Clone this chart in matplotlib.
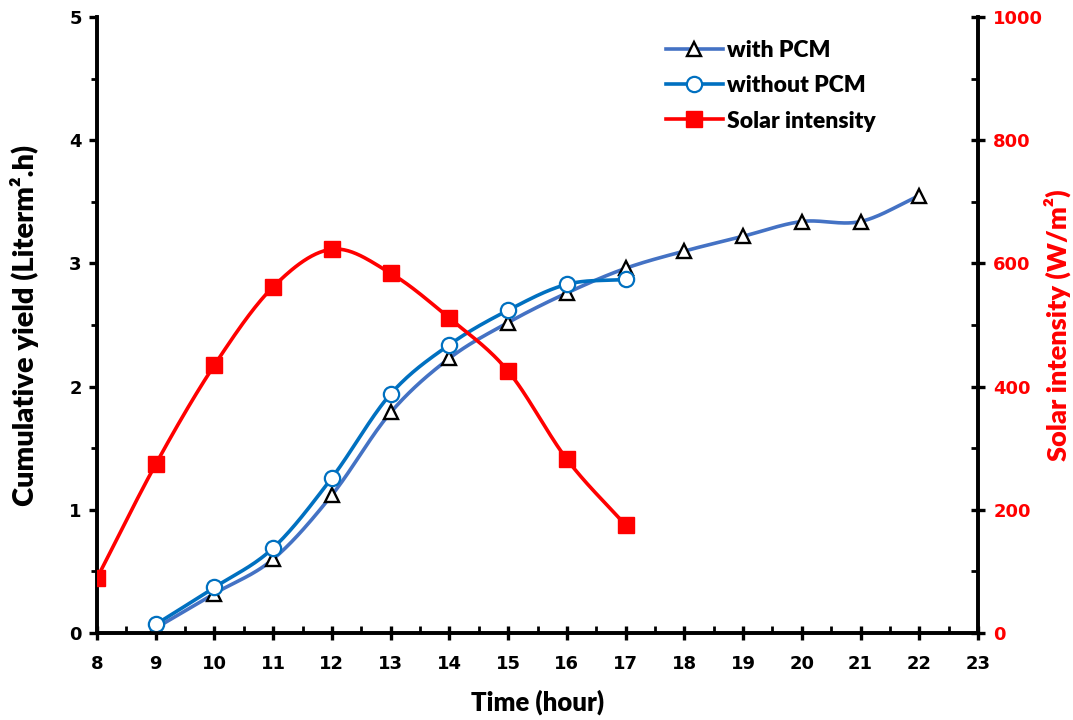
import numpy as np
import matplotlib
matplotlib.use("Agg")
import matplotlib.pyplot as plt
from matplotlib.ticker import MultipleLocator

# Hourly measurements
hours_pcm = [9, 10, 11, 12, 13, 14, 15, 16, 17, 18, 19, 20, 21, 22]
yield_pcm = [0.04, 0.32, 0.60, 1.12, 1.79, 2.23, 2.52, 2.76, 2.96, 3.10, 3.22, 3.34, 3.34, 3.55]

hours_nopcm = [9, 10, 11, 12, 13, 14, 15, 16, 17]
yield_nopcm = [0.07, 0.37, 0.69, 1.26, 1.94, 2.34, 2.62, 2.83, 2.87]

hours_solar = [8, 9, 10, 11, 12, 13, 14, 15, 16, 17]
solar = [89, 274, 435, 562, 623, 584, 511, 425, 282, 175]

x_ticks = list(range(8, 24))


def smooth(x, y, n=30):
    """Catmull-Rom spline through the points (smoothed line)."""
    x = np.asarray(x, float)
    y = np.asarray(y, float)
    px = np.concatenate([[2 * x[0] - x[1]], x, [2 * x[-1] - x[-2]]])
    py = np.concatenate([[2 * y[0] - y[1]], y, [2 * y[-1] - y[-2]]])
    xs, ys = [], []
    t = np.linspace(0, 1, n)
    for i in range(1, len(px) - 2):
        for P, out in ((px[i - 1:i + 3], xs), (py[i - 1:i + 3], ys)):
            a, b, c, d = P
            out.extend(0.5 * ((2 * b) + (-a + c) * t + (2 * a - 5 * b + 4 * c - d) * t ** 2
                              + (-a + 3 * b - 3 * c + d) * t ** 3))
    return np.array(xs), np.array(ys)


title_font = "Lato"
tick_font = "DejaVu Sans"

fig = plt.figure(figsize=(10.73, 7.2), dpi=100)
ax = fig.add_axes([97 / 1073, 87 / 720, 881 / 1073, 616 / 720])
ax2 = ax.twinx()

c_pcm = "#4472C4"
c_nopcm = "#0070C0"
c_solar = "#FF0000"

sx, sy = smooth(hours_pcm, yield_pcm)
ax.plot(sx, sy, color=c_pcm, lw=2.6, zorder=2)
ax.plot(hours_pcm, yield_pcm, ls="none", marker="^", ms=10.5, mfc="white",
        mec="black", mew=1.7, zorder=4)

sx, sy = smooth(hours_nopcm, yield_nopcm)
ax.plot(sx, sy, color=c_nopcm, lw=2.6, zorder=3)
ax.plot(hours_nopcm, yield_nopcm, ls="none", marker="o", ms=11, mfc="white",
        mec=c_nopcm, mew=1.6, zorder=5)

sx, sy = smooth(hours_solar, solar)
ax2.plot(sx, sy, color=c_solar, lw=2.6, zorder=2)
ax2.plot(hours_solar, solar, ls="none", marker="s", ms=11, color=c_solar, zorder=3)

# Legend handles
h1, = ax2.plot([], [], color=c_pcm, lw=2.6, marker="^", ms=10.5, mfc="white", mec="black", mew=1.7)
h2, = ax2.plot([], [], color=c_nopcm, lw=2.6, marker="o", ms=11, mfc="white", mec=c_nopcm, mew=1.6)
h3, = ax2.plot([], [], color=c_solar, lw=2.6, marker="s", ms=11)
ax2.legend([h1, h2, h3], ["with PCM", "without PCM", "Solar intensity"],
           loc="upper left", bbox_to_anchor=(0.622, 0.996), frameon=False,
           handlelength=2.5, handletextpad=0.2, labelspacing=0.62,
           prop={"family": title_font, "weight": "heavy", "size": 16.5})

ax.set_xlim(8, 23)
ax.set_ylim(0, 5)
ax2.set_ylim(0, 1000)
ax.set_xticks(x_ticks)
ax.xaxis.set_minor_locator(MultipleLocator(0.5))
ax.yaxis.set_major_locator(MultipleLocator(1))
ax.yaxis.set_minor_locator(MultipleLocator(0.5))
ax2.yaxis.set_major_locator(MultipleLocator(200))
ax2.yaxis.set_minor_locator(MultipleLocator(100))

for a in (ax, ax2):
    for s in a.spines.values():
        s.set_linewidth(2.6)
    a.spines["top"].set_visible(False)

ax.tick_params(axis="x", which="major", direction="inout", length=10, width=2.4, pad=11)
ax.tick_params(axis="x", which="minor", direction="in", length=5, width=2)
ax.tick_params(axis="y", which="major", direction="out", length=6, width=2.4, pad=5)
ax.tick_params(axis="y", which="minor", direction="out", length=4, width=2)
ax2.tick_params(axis="y", which="major", direction="inout", length=10, width=2.4, pad=6,
                labelcolor=c_solar)
ax2.tick_params(axis="y", which="minor", direction="in", length=5, width=2)

for lab in ax.get_xticklabels() + ax.get_yticklabels() + ax2.get_yticklabels():
    lab.set_fontfamily(tick_font)
    lab.set_fontweight("bold")
    lab.set_fontsize(13)
for lab in ax2.get_yticklabels():
    lab.set_color(c_solar)

ax.set_xlabel("Time (hour)", fontfamily=title_font, fontweight="heavy", fontsize=18.5, labelpad=12)
ax.set_ylabel("Cumulative yield (Literm².h)", fontfamily=title_font,
              fontweight="heavy", fontsize=21, labelpad=22)
ax2.set_ylabel("Solar intensity (W/m²)", fontfamily=title_font,
               fontweight="heavy", fontsize=19.5, color=c_solar, labelpad=0)

fig.savefig("out.png", dpi=100)
